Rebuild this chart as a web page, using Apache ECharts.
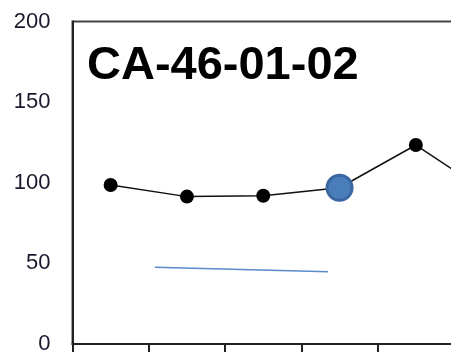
<!DOCTYPE html>
<html>
<head>
<meta charset="utf-8">
<script src="https://cdn.jsdelivr.net/npm/echarts@6/dist/echarts.min.js"></script>
<style>
  html, body { margin: 0; padding: 0; background: #fff; }
  #main { width: 451px; height: 352px; }
</style>
</head>
<body>
<div id="main"></div>
<script>
const chartTitle = 'CA-46-01-02';
// one value per category slot (slot i is centred at i + 0.5)
const values = [98.6, 91.4, 91.9, 96.9, 123.4, 92];
const highlightIndex = 3;
// short blue trend segment
const trendX = [1.08, 3.35];
const trendY = [47.6, 44.8];
const yMin = 0;
const yMax = 200;
const yStep = 50;
const slotCount = 8;

const chartDom = document.getElementById('main');
const myChart = echarts.init(chartDom);

const lineData = values.map((v, i) => {
  const item = { value: [i + 0.5, v] };
  if (i === highlightIndex) {
    item.symbolSize = 25;
    item.itemStyle = { color: '#4A7EBB', borderColor: '#3A67A0', borderWidth: 3 };
  }
  return item;
});
const trendData = trendX.map((x, i) => [x, trendY[i]]);

const option = {
  animation: false,
  grid: {
    left: 72.5,
    top: 21.5,
    width: 76.3 * slotCount,
    height: 322.5,
    outerBoundsMode: 'none',
    containLabel: false,
    show: true,
    borderColor: '#444',
    borderWidth: 2,
    backgroundColor: 'transparent'
  },
  graphic: [{
    type: 'text',
    left: 87,
    top: 43,
    style: {
      text: chartTitle,
      font: 'bold 47px "Liberation Sans", Arial, sans-serif',
      fill: '#000'
    }
  }],
  xAxis: {
    type: 'value',
    min: 0,
    max: slotCount,
    interval: 1,
    axisLine: { show: true, onZero: false, lineStyle: { color: '#222', width: 2 } },
    axisTick: { show: true, length: 12, lineStyle: { color: '#222', width: 2 } },
    axisLabel: { show: false },
    splitLine: { show: false }
  },
  yAxis: {
    type: 'value',
    min: yMin,
    max: yMax,
    interval: yStep,
    axisLine: { show: true, lineStyle: { color: '#222', width: 2 } },
    axisTick: { show: false },
    splitLine: { show: false },
    axisLabel: {
      margin: 22,
      color: '#1a1a2e',
      fontSize: 22,
      fontFamily: '"Liberation Sans", Arial, sans-serif'
    }
  },
  series: [
    {
      type: 'line',
      data: trendData,
      symbol: 'none',
      lineStyle: { color: '#5B8BC8', width: 1.5 },
      z: 2
    },
    {
      type: 'line',
      data: lineData,
      symbol: 'circle',
      symbolSize: 14,
      itemStyle: { color: '#000' },
      lineStyle: { color: '#111', width: 1.5 },
      z: 3
    }
  ]
};

option && myChart.setOption(option);
</script>
</body>
</html>
